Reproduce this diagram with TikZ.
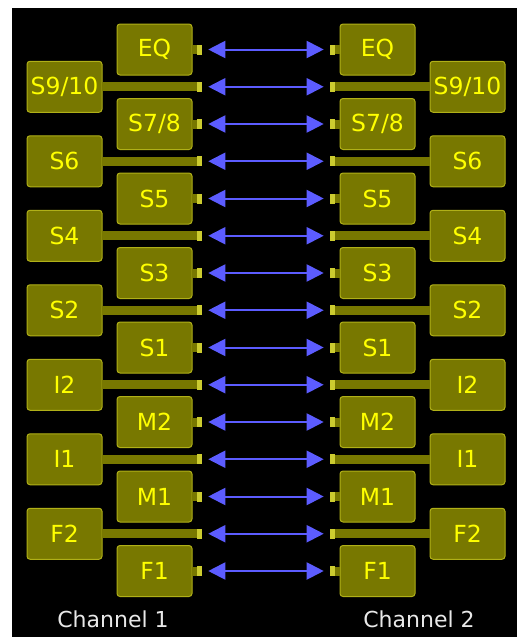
\documentclass[tikz,border=0pt]{standalone}
\usepackage{fontspec}
\setmainfont{DejaVu Sans}
\usepackage{tikz}
\usepackage{xcolor}
\usetikzlibrary{arrows.meta, positioning}
\definecolor{boxfill}{RGB}{120, 120, 0}
\definecolor{boxedge}{RGB}{176, 176, 24}
\definecolor{padfill}{RGB}{204, 204, 48}
\definecolor{labelyellow}{RGB}{255, 255, 0}
\definecolor{linkblue}{RGB}{92, 92, 255}
\definecolor{chantext}{RGB}{232, 232, 232}

\tikzset{
  chbox/.style={draw=boxedge, line width=1pt, fill=boxfill, rounded corners=3pt,
    minimum width=75pt, minimum height=51pt, inner sep=0pt, text=labelyellow,
    font=\fontsize{23.5}{23.5}\selectfont},
  neck/.style={fill=boxfill, minimum height=9pt, inner sep=0pt},
  pad/.style={fill=padfill, minimum width=5pt, minimum height=10pt, inner sep=0pt},
  link/.style={arrows={Triangle[length=17pt, width=17pt]-Triangle[length=17pt, width=17pt]},
    line width=2pt, draw=linkblue, shorten >=6pt, shorten <=6pt},
  chlabel/.style={text=chantext, inner sep=0pt, font=\fontsize{22}{22}\selectfont}
}

\begin{document}
\begin{tikzpicture}[x=1pt, y=-1pt]
  \fill[white] (0,0) rectangle (517,637);
  \fill[black] (12,8) rectangle (517,637);
  \useasboundingbox (0,0) rectangle (517,637);

  % one row per setting: box centre x on the left side / label
  \foreach \bx/\lbl [count=\i from 0] in {154.5/EQ, 64.5/{S9/10}, 154.5/{S7/8}, 64.5/S6,
      154.5/S5, 64.5/S4, 154.5/S3, 64.5/S2, 154.5/S1, 64.5/I2, 154.5/M2, 64.5/I1,
      154.5/M1, 64.5/F2, 154.5/F1} {
    \pgfmathsetmacro\y{49.5+37.25*\i}
    \pgfmathsetmacro\nk{159.5-\bx}
    % channel 1
    \node[chbox] (L\i) at (\bx,\y) {\lbl};
    \node[neck, minimum width=\nk pt, anchor=west] (Ln\i) at ([xshift=-1pt]L\i.east) {};
    \node[pad, anchor=west] (Lp\i) at (Ln\i.east) {};
    % channel 2
    \node[chbox] (R\i) at ({532-\bx},\y) {\lbl};
    \node[neck, minimum width=\nk pt, anchor=east] (Rn\i) at ([xshift=1pt]R\i.west) {};
    \node[pad, anchor=east] (Rp\i) at (Rn\i.west) {};
    \draw[link] (Lp\i) -- (Rp\i);
  }

  \node[chlabel] (ch1) at (113,619.5) {Channel 1};
  \node[chlabel] (ch2) at (419,619.5) {Channel 2};
\end{tikzpicture}
\end{document}
